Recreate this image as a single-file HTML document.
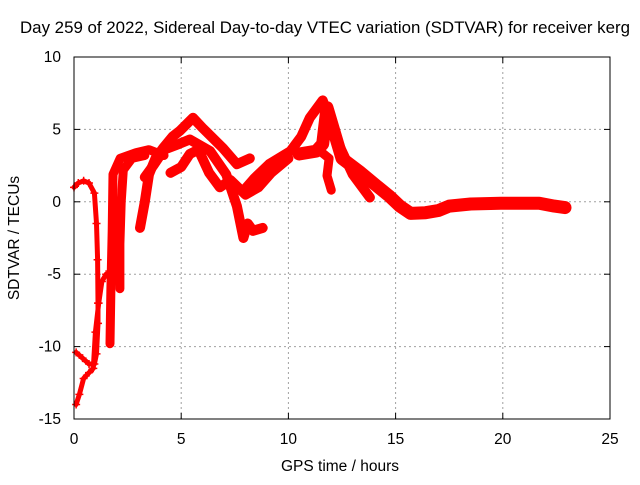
<!DOCTYPE html>
<html><head><meta charset="utf-8"><style>
body{margin:0;background:#fff;}
svg text{font-family:"Liberation Sans",sans-serif;font-size:15.5px;fill:#000;}
</style></head><body>
<svg id="chart" width="640" height="480" xmlns="http://www.w3.org/2000/svg">
<rect x="0" y="0" width="640" height="480" fill="#fff"/>
<text x="325" y="33" text-anchor="middle" textLength="610" lengthAdjust="spacingAndGlyphs" style="font-size:16.5px">Day 259 of 2022, Sidereal Day-to-day VTEC variation (SDTVAR) for receiver kerg</text>
<g id="grid"></g>
<g id="ticks"></g>
<g id="series"></g>
<rect x="74" y="57" width="536" height="362" fill="none" stroke="#000" stroke-width="1"/>
<text x="340" y="471" text-anchor="middle">GPS time / hours</text>
<text x="0" y="0" text-anchor="middle" transform="translate(19,238) rotate(-90)">SDTVAR / TECUs</text>
</svg>
<script>
const xTicks=[0,5,10,15,20,25];
const yTicks=[-15,-10,-5,0,5,10];
const track1=[[0,1.0],[0.2,1.3],[0.45,1.45],[0.7,1.3],[0.95,0.6],[1.05,-1.5],[1.1,-4],[1.12,-7],[1.12,-8.4],[1.05,-10.5],[0.95,-11.2],[0.7,-11.2],[0.4,-10.8],[0.1,-10.4]];
const track2=[[0.1,-14.0],[0.25,-13.3],[0.45,-12.2],[0.7,-11.8],[0.9,-11.5],[1.0,-9],[1.15,-7],[1.3,-5.5],[1.5,-5]];
const track3=[[1.68,-9.8],[1.72,-6],[1.78,-2],[1.82,1.9],[2.15,3.0],[2.9,3.4],[3.5,3.6],[4.2,3.2]];
const track4=[[2.14,-6],[2.14,-2.9],[2.2,0],[2.3,2.2],[2.7,3.0],[3.3,3.2]];
const track5=[[3.08,-1.8],[3.3,0],[3.5,1.9],[3.8,3.0],[4.15,3.7],[4.6,4.5],[4.94,4.9],[5.55,5.8],[6.0,5.1],[6.95,3.7],[7.6,2.6],[8.2,3.0]];
const track6=[[3.3,1.7],[3.7,2.5],[4.2,3.6],[4.9,4.0],[5.4,4.3],[6.35,3.5],[7.1,1.9],[7.6,-0.3],[7.9,-2.5],[8.1,-1.5],[8.35,-2.0],[8.8,-1.8]];
const track7=[[4.5,2.0],[5.0,2.4],[5.4,3.3],[5.8,3.6],[6.3,2.0],[6.8,1.0],[7.3,1.5],[8.0,0.5],[8.6,1.0],[9.2,2.0],[10,3.0]];
const track8=[[7.9,0.75],[8.4,1.6],[9.1,2.6],[10.1,3.5],[10.6,4.5],[11.0,5.8],[11.6,7.0],[11.9,5.8],[12.4,3.8],[13.0,1.9],[13.8,0.3]];
const track9=[[10.5,3.3],[11.3,3.5],[11.6,4.0],[11.8,6.5],[12.1,5.0],[12.5,3.0],[13.3,2.1],[14.2,1.0],[14.7,0.4],[15.2,-0.3],[15.7,-0.8],[16.4,-0.75],[17.0,-0.6],[17.5,-0.3],[18.5,-0.15],[19.9,-0.1],[20.8,-0.1],[21.7,-0.1],[22.4,-0.3],[22.9,-0.4]];
const track10=[[11.4,3.6],[11.9,3.0],[11.8,1.8],[12.0,0.8]];
const tracks=[track1,track2,track3,track4,track5,track6,track7,track8,track9,track10];
const widths=[5,5,9,9,10,10,10,10,13,9];
const NS='http://www.w3.org/2000/svg';
const X0=74,X1=610,Y0=419,Y1=57;
function sx(v){return X0+(v-0)/(25-0)*(X1-X0);}
function sy(v){return Y0-(v+15)/(25)*(Y0-Y1);}
const grid=document.getElementById('grid'),ticks=document.getElementById('ticks'),ser=document.getElementById('series');
function mk(tag,attrs,parent){const e=document.createElementNS(NS,tag);for(const k in attrs)e.setAttribute(k,attrs[k]);parent.appendChild(e);return e;}
xTicks.forEach(t=>{const x=sx(t);
 if(t>0&&t<25){const g=mk('line',{x1:x,x2:x,y1:Y0,y2:Y1,stroke:'#a0a0a0','stroke-dasharray':'2,3'},grid);}
 const tk=mk('line',{x1:x,x2:x,y1:Y0,y2:Y0-6,stroke:'#000'},ticks);
 const tk2=mk('line',{x1:x,x2:x,y1:Y1,y2:Y1+6,stroke:'#000'},ticks);
 const l=mk('text',{x:x,y:Y0+25,'text-anchor':'middle'},ticks);l.textContent=t;});
yTicks.forEach(t=>{const y=sy(t);
 if(t>-15&&t<10){const g=mk('line',{x1:X0,x2:X1,y1:y,y2:y,stroke:'#a0a0a0','stroke-dasharray':'2,3'},grid);}
 const tk=mk('line',{x1:X0,x2:X0+6,y1:y,y2:y,stroke:'#000'},ticks);
 const tk2=mk('line',{x1:X1,x2:X1-6,y1:y,y2:y,stroke:'#000'},ticks);
 const l=mk('text',{x:X0-13,y:y+5,'text-anchor':'end'},ticks);l.textContent=t;});
tracks.forEach((tr,i)=>{
 const pts=tr.map(p=>sx(p[0]).toFixed(1)+','+sy(p[1]).toFixed(1)).join(' ');
 const pl=mk('polyline',{points:pts,fill:'none',stroke:'#ff0000','stroke-width':widths[i],'stroke-linejoin':'round','stroke-linecap':'round'},ser);
 
 
 tr.forEach(p=>{const x=sx(p[0]),y=sy(p[1]);
  const m=mk('path',{d:`M${x-4},${y}h8M${x},${y-4}v8`,stroke:'#ff0000','stroke-width':1.5},ser);
  
  });
});
</script>
</body></html>
